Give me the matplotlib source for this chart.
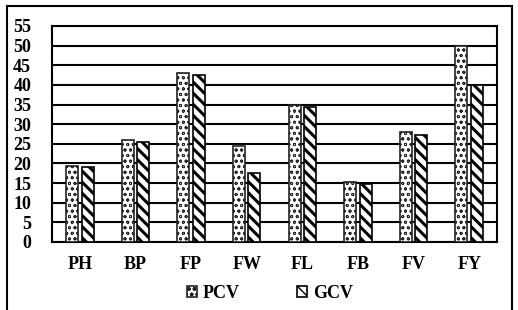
import matplotlib
matplotlib.use("Agg")
import matplotlib.pyplot as plt
import numpy as np
from matplotlib.patches import Rectangle

categories = ["PH", "BP", "FP", "FW", "FL", "FB", "FV", "FY"]
pcv = [19.3, 26.0, 43.1, 24.5, 34.9, 15.2, 28.1, 49.9]
gcv = [19.2, 25.5, 42.5, 17.6, 34.3, 14.8, 27.2, 39.9]
yticks = list(range(0, 56, 5))

plt.rcParams['font.family'] = ['Liberation Serif', 'DejaVu Serif']
plt.rcParams['font.weight'] = 'bold'
plt.rcParams['hatch.linewidth'] = 1.0

fig = plt.figure(figsize=(5.18, 3.10), dpi=100)
ax = fig.add_axes([52/518, 1-242/310, 445/518, 216/310])

x = np.arange(len(categories))
w = 0.215
gap = 0.065
b1 = ax.bar(x - (w+gap)/2, pcv, w, facecolor='white', edgecolor='#222222', linewidth=1.2,
            hatch='ooo', label='PCV', zorder=3)
b2 = ax.bar(x + (w+gap)/2, gcv, w, facecolor='white', edgecolor='black', linewidth=1.2,
            hatch='\\\\\\', label='GCV', zorder=3)
for p in b1:
    if hasattr(p, 'set_hatch_linewidth'):
        p.set_hatch_linewidth(0.6)
for p in b2:
    if hasattr(p, 'set_hatch_linewidth'):
        p.set_hatch_linewidth(2.2)
ax.set_xlim(-0.5, len(categories)-0.5)
ax.set_ylim(0, 55)
ax.set_yticks(yticks)
ax.set_xticks(x)
ax.set_xticklabels(categories, fontsize=13, fontweight='bold')
ax.tick_params(axis='both', length=0, labelsize=13)
ax.tick_params(axis='x', pad=10)
ax.tick_params(axis='y', pad=15)
for lab in ax.get_yticklabels():
    lab.set_fontweight('bold')
ax.yaxis.grid(True, color='black', linewidth=1.5, zorder=0)
ax.set_axisbelow(True)
for s in ax.spines.values():
    s.set_color('black')
    s.set_linewidth(1.5)

leg = fig.legend(handles=[b1, b2], labels=['PCV', 'GCV'], loc='center',
                 bbox_to_anchor=(270/518, 1-293/310), ncol=2, frameon=False,
                 fontsize=13, handlelength=0.55, handleheight=0.55, columnspacing=3.2,
                 handletextpad=0.3)

fig.patches.append(Rectangle((7/518, -0.1), (512-7)/518, 1.1-6/310, transform=fig.transFigure,
                             fill=False, edgecolor='black', linewidth=1.5))

fig.savefig("out.png", dpi=100)
